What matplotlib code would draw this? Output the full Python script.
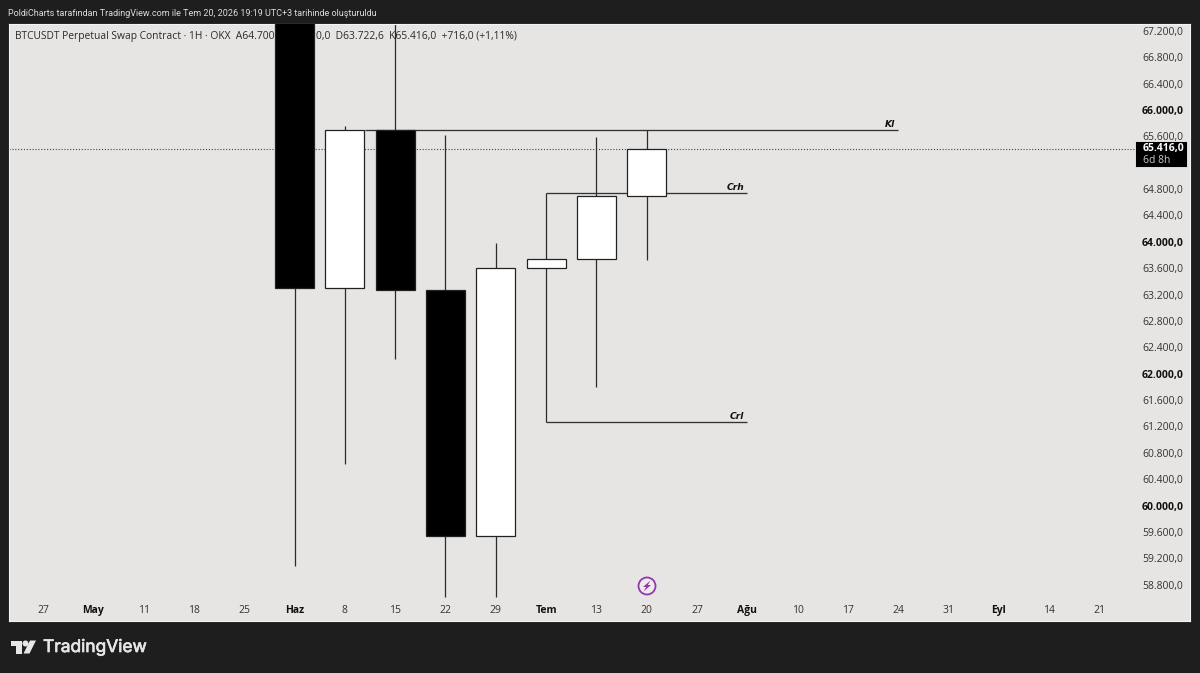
import matplotlib

matplotlib.use("Agg")
import matplotlib.pyplot as plt
from matplotlib.patches import Circle, Polygon, Rectangle
import matplotlib.patheffects as pe

BG = "#1e1e1e"
PANE = "#e6e5e3"
FONT = "Open Sans"

# weekly candles, x is the position on the week axis
weeks = [5, 6, 7, 8, 9, 10, 11, 12]
opens = [68300, 63300, 65697, 63270, 59537, 63603, 63740, 64695]
closes = [63300, 65697, 63270, 59537, 63603, 63740, 64695, 65416]
highs = [68500, 65757, 67900, 65620, 63982, 64740, 65590, 65697]
lows = [59082, 60630, 62222, 58612, 58612, 61267, 61797, 63725]

week_labels = ["27", "May", "11", "18", "25", "Haz", "8", "15", "22", "29", "Tem",
               "13", "20", "27", "Ağu", "10", "17", "24", "31", "Eyl", "14", "21"]
month_labels = ["May", "Haz", "Tem", "Ağu", "Eyl"]

# 65.200 sits behind the price badge, so it gets no tick
price_ticks = [v for v in range(58800, 67201, 400) if v != 65200]
round_prices = [60000, 62000, 64000, 66000]

last_price = 65416
levels = [("Kl", 65697, 6.4, 17), ("Crh", 64740, 10, 14), ("Crl", 61267, 10, 14)]

W, H = 1200, 673


def fmt_price(v):
    return f"{v:,.1f}".replace(",", "X").replace(".", ",").replace("X", ".")


plt.rcParams["font.family"] = FONT
fig = plt.figure(figsize=(W / 100, H / 100), dpi=100, facecolor=BG)

left, right, top, bottom = 9, 1190, 24, 621
ax = fig.add_axes([left / W, 1 - bottom / H, (right - left) / W, (bottom - top) / H])
ax.set_facecolor(PANE)
ax.set_xlim(-0.676, 22.8)
ax.set_ylim(58248, 67305)
for s in ax.spines.values():
    s.set_color("#f4f4f2")
    s.set_linewidth(0.8)

ax.yaxis.tick_right()
ax.set_yticks(price_ticks, [fmt_price(v) for v in price_ticks])
ax.tick_params(axis="y", length=0, pad=-34.6, labelsize=7.5, labelcolor="#333333")
ax.set_xticks(range(len(week_labels)), week_labels)
ax.tick_params(axis="x", length=0, pad=-6.0, labelsize=7.5, labelcolor="#333333")
for lab, v in zip(ax.get_yticklabels(), price_ticks):
    if v in round_prices:
        lab.set_fontweight("bold")
        lab.set_color("#111111")
for lab in ax.get_xticklabels():
    lab.set_verticalalignment("baseline")
    if lab.get_text() in month_labels:
        lab.set_fontweight("bold")
        lab.set_color("#111111")

# header legend sits under the candles
ax.text(15 / W, 1 - 36 / H, "BTCUSDT Perpetual Swap Contract · 1H · OKX  A64.700,1", transform=fig.transFigure,
        fontsize=7.4, color="#2a2a2a", va="center", zorder=1)
ax.text(316 / W, 1 - 36 / H, "0,0  D63.722,6  K65.416,0  +716,0 (+1,11%)", transform=fig.transFigure,
        fontsize=7.4, color="#2a2a2a", va="center", zorder=1)
fig.text(8 / W, 1 - 13 / H, "PoldiCharts tarafından TradingView.com ile Tem 20, 2026 19:19 UTC+3 tarihinde oluşturuldu",
         fontsize=6.5, color="#dcdcdc", va="center", family="Roboto")

# last price line, stops at the badge
ax.axhline(last_price, xmax=0.953, color="#444444", lw=0.8, ls=(0, (1, 1.6)), zorder=1)

# candles
ax.vlines(weeks, lows, highs, color="#2b2b2b", lw=0.9, zorder=2)
for x, o, c in zip(weeks, opens, closes):
    col = "#ffffff" if c >= o else "#000000"
    ax.bar(x, abs(c - o), bottom=min(o, c), width=0.775, color=col,
           edgecolor="#222222", linewidth=0.9, zorder=3)

# marked levels with labels at their right end
for name, price, x0, x1 in levels:
    ax.hlines(price, x0, x1, color="#333333", lw=0.95, zorder=2.5)
    ax.text(x1 - 0.06, price + 10, name, ha="right", va="bottom", fontsize=6.6,
            fontstyle="italic", fontweight="bold", color="#111111", zorder=4, family="DejaVu Sans")

# pixel overlay for the price badge, the flash marker and the logo
ov = fig.add_axes([0, 0, 1, 1], facecolor="none")
ov.set_xlim(0, W)
ov.set_ylim(H, 0)
ov.axis("off")
ov.add_patch(Rectangle((1135, 141), 52, 26, fc="#000000", ec="#f0f0f0", lw=0.6))
ov.text(1143, 148, fmt_price(last_price), color="#ffffff", fontsize=7.5, va="center", fontweight="bold")
ov.text(1143, 160.5, "6d 8h", color="#c8c8c8", fontsize=7.5, va="center")

ov.add_patch(Circle((647, 586), 8.5, fc="#eeeaee", ec="#8e3aa8", lw=1.3))
ov.add_patch(Polygon([(650.5, 580.5), (643, 587), (646.2, 587), (643.5, 591.5), (651, 585), (647.8, 585)],
                     fc="#8e3aa8", ec="none"))

# logo mark
ov.add_patch(Polygon([(10.5, 640.5), (22, 640.5), (22, 653.5), (16, 653.5), (16, 646), (10.5, 646)], fc="#e6e6e6", ec="none"))
ov.add_patch(Circle((25.5, 643.5), 3, fc="#e6e6e6", ec="none"))
ov.add_patch(Polygon([(30, 640.5), (36, 640.5), (29.5, 653.5), (23.5, 653.5)], fc="#e6e6e6", ec="none"))
ov.text(43, 647.5, "TradingView", color="#e6e6e6", fontsize=12.5, va="center", family="Inter",
        path_effects=[pe.withStroke(linewidth=0.5, foreground="#e6e6e6")])

fig.savefig("out.png", dpi=100, facecolor=BG)
